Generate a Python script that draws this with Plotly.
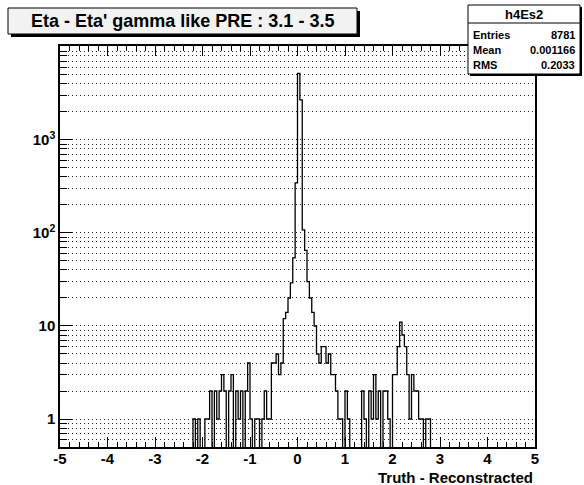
import numpy as np
import plotly.graph_objects as go

# ---- data ----
first_edge = -2.20
bin_width = 0.05
counts = [
    1, 0, 1, 0, 0, 1, 1, 2, 0, 2,
    1, 2, 3, 2, 0, 2, 3, 0, 2, 1,
    2, 0, 2, 4, 1, 0, 1, 1, 0, 1,
    2, 1, 1, 4, 4, 5, 3, 4, 12, 14,
    20, 29, 54, 345,
    5200, 2700, 108, 65, 30, 20, 14, 10, 5, 4,
    6, 6, 4, 5, 3, 3, 2, 1, 1, 0,
    2, 1, 0, 0, 0, 0, 0, 2, 1, 0,
    2, 1, 3, 1, 2, 0, 2, 2, 1, 0,
    3, 3, 6, 11, 8, 6, 3, 1, 3, 2,
    2, 1, 1, 0, 1, 1, 0,
]
x_ticks = [-5, -4, -3, -2, -1, 0, 1, 2, 3, 4, 5]
y_ticks = [1, 10, 100, 1000]
y_ticktext = ["<b>1</b>", "<b>10</b>", "<b>10<sup>2</sup></b>", "<b>10<sup>3</sup></b>"]
y_minor = [0.6, 0.7, 0.8, 0.9] + [m * d for d in (1, 10, 100, 1000) for m in range(2, 10)] + [10000]

title_text = "Eta - Eta' gamma like PRE : 3.1 - 3.5"
stats_name = "h4Es2"
stats_rows = [("Entries", "8781"), ("Mean", "0.001166"), ("RMS", "0.2033")]
x_title = "Truth - Reconstracted"

# ---- build step outline ----
edges = np.round(first_edge + bin_width * np.arange(len(counts) + 1), 4)
floor_val = 1e-3
yv = [c if c > 0 else floor_val for c in counts]
xs = [edges[0]] + list(edges[:-1]) + [edges[-1]]
ys = [floor_val] + yv + [floor_val]

W, H = 584, 485
L, R, T, B = 60, 535, 46, 447


def px(x):
    return (x - L) / (R - L)


def py(y):
    return (B - y) / (B - T)


fig = go.Figure()
fig.add_trace(go.Scatter(x=xs, y=ys, mode="lines", line=dict(color="black", width=1.3, shape="hv"),
                         hoverinfo="skip", showlegend=False))

font_b = "Liberation Sans, Arial, Helvetica, sans-serif"

fig.update_layout(
    template="none",
    width=W, height=H,
    margin=dict(l=L, r=W - R, t=T, b=H - B, autoexpand=False),
    paper_bgcolor="white", plot_bgcolor="white",
    font=dict(family=font_b, color="black"),
    showlegend=False,
    xaxis=dict(
        automargin=False,
        range=[-5, 5], tickvals=x_ticks, ticktext=[f"<b>{v}</b>" for v in x_ticks],
        ticks="inside", ticklen=10, tickwidth=1, tickcolor="black",
        minor=dict(dtick=0.2, ticks="inside", ticklen=5, tickcolor="black", showgrid=False),
        showline=True, linecolor="black", linewidth=1.5, mirror="ticks",
        showgrid=False, zeroline=False, tickfont=dict(size=15, family=font_b),
        ticklabelstandoff=-3,
    ),
    yaxis=dict(
        automargin=False,
        type="log", range=[np.log10(0.5), 4.01],
        tickvals=y_ticks, ticktext=y_ticktext,
        ticks="inside", ticklen=12, tickwidth=1, tickcolor="black",
        minor=dict(tickvals=y_minor, ticks="inside", ticklen=7, tickcolor="black",
                   showgrid=True, gridcolor="#222", griddash="1px,3px", gridwidth=1),
        showgrid=True, gridcolor="#222", griddash="1px,3px", gridwidth=1,
        showline=True, linecolor="black", linewidth=1.5, mirror=True,
        zeroline=False, tickfont=dict(size=15, family=font_b),
    ),
)

shapes = []
annotations = []

# title box with shadow
tx0, ty0, tx1, ty1 = 8, 8, 357, 34
shapes.append(dict(type="rect", xref="paper", yref="paper", x0=px(tx0 + 3), x1=px(tx1 + 3), y0=py(ty1 + 3), y1=py(ty0 + 3),
                   line=dict(width=0), fillcolor="black", layer="above"))
shapes.append(dict(type="rect", xref="paper", yref="paper", x0=px(tx0), x1=px(tx1), y0=py(ty1), y1=py(ty0),
                   line=dict(color="black", width=1), fillcolor="#f2f2f2", layer="above"))
annotations.append(dict(xref="paper", yref="paper", x=px((tx0 + tx1) / 2), y=py((ty0 + ty1) / 2),
                        text=f"<b>{title_text}</b>", showarrow=False, xanchor="center", yanchor="middle",
                        font=dict(size=18, family=font_b, color="black")))

# stats box with shadow
sx0, sy0, sx1, sy1 = 468, 5, 580, 74
shapes.append(dict(type="rect", xref="paper", yref="paper", x0=px(sx0 + 2), x1=px(sx1 + 2), y0=py(sy1 + 2), y1=py(sy0 + 2),
                   line=dict(width=0), fillcolor="black", layer="above"))
shapes.append(dict(type="rect", xref="paper", yref="paper", x0=px(sx0), x1=px(sx1), y0=py(sy1), y1=py(sy0),
                   line=dict(color="black", width=1), fillcolor="white", layer="above"))
shapes.append(dict(type="line", xref="paper", yref="paper", x0=px(sx0), x1=px(sx1), y0=py(23), y1=py(23),
                   line=dict(color="black", width=1), layer="above"))
annotations.append(dict(xref="paper", yref="paper", x=px((sx0 + sx1) / 2), y=py(14),
                        text=f"<b>{stats_name}</b>", showarrow=False, xanchor="center", yanchor="middle",
                        font=dict(size=13, family=font_b)))
row_y = [35, 50, 65]
for (lab, val), ry in zip(stats_rows, row_y):
    annotations.append(dict(xref="paper", yref="paper", x=px(sx0 + 3), y=py(ry), text=f"<b>{lab}</b>",
                            showarrow=False, xanchor="left", yanchor="middle", font=dict(size=11, family=font_b)))
    annotations.append(dict(xref="paper", yref="paper", x=px(sx1 - 3), y=py(ry), text=f"<b>{val}</b>",
                            showarrow=False, xanchor="right", yanchor="middle", font=dict(size=11, family=font_b)))

# x axis title
annotations.append(dict(xref="paper", yref="paper", x=1.0, y=py(477), text=f"<b>{x_title}</b>",
                        showarrow=False, xanchor="right", yanchor="middle", font=dict(size=15, family=font_b)))

fig.update_layout(shapes=shapes, annotations=annotations)
fig.write_html("out.html", config={"displayModeBar": False},
               post_script="document.body.style.margin='0px';document.body.style.padding='0px';")
